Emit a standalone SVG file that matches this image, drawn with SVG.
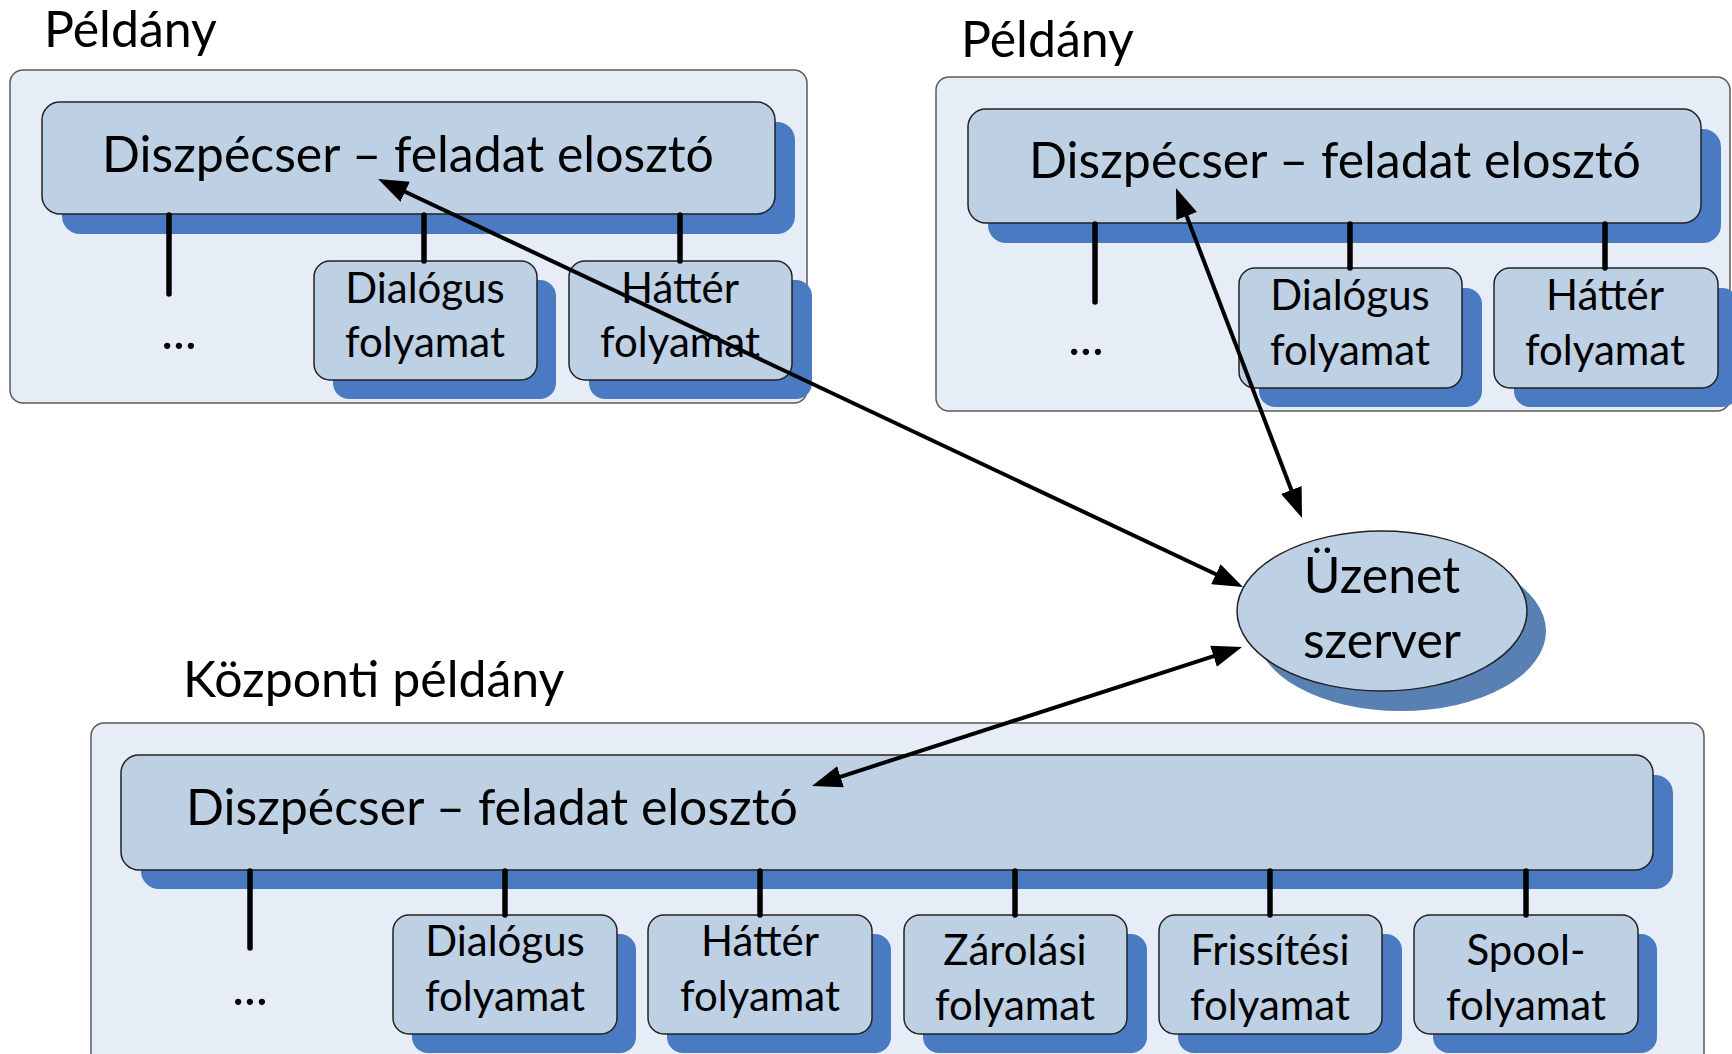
<svg xmlns="http://www.w3.org/2000/svg" width="1732" height="1054" viewBox="0 0 1732 1054">
<style>
.panel{fill:#e6edf7;stroke:#5a5a5a;stroke-width:1.5}
.box{fill:#bed0e3;stroke:#222;stroke-width:1.5}
.shadow{fill:#4a7bc2}
.eshadow{fill:#5880b3}
.vline{stroke:#000;stroke-width:5.5;stroke-linecap:round}
.arrow{stroke:#000;stroke-width:4;fill:none;marker-start:url(#ah);marker-end:url(#ah)}
text{font-family:Lato,"Liberation Sans",sans-serif;fill:#000}
.big{font-size:50px}
.small{font-size:42px}
.mid{text-anchor:middle}
</style>
<defs>
<marker id="ah" markerUnits="userSpaceOnUse" markerWidth="30" markerHeight="22" refX="10" refY="11" orient="auto-start-reverse" viewBox="0 0 30 22">
<path d="M0,0 L30,11 L0,22 Z" fill="#000"/>
</marker>
</defs>

<g id="instance-top-left">
<text class="big" x="44" y="47">Példány</text>
<rect class="panel" x="10" y="70" width="797" height="333" rx="13"/>
<rect class="shadow" x="62" y="122" width="733" height="112" rx="18"/>
<rect class="box" x="42" y="102" width="733" height="112" rx="18"/>
<text class="big mid" x="408" y="172">Diszpécser – feladat elosztó</text>
<text class="big mid" x="179" y="349">...</text>
</g>
<g id="tl-dialog">
<rect class="shadow" x="333" y="280" width="223" height="119" rx="16"/>
<rect class="box" x="314" y="261" width="223" height="119" rx="16"/>
<text class="small mid" x="425" y="303">Dialógus</text>
<text class="small mid" x="425" y="357">folyamat</text>
</g>
<g id="tl-hatter">
<rect class="shadow" x="589" y="280" width="223" height="119" rx="16"/>
<rect class="box" x="569" y="261" width="223" height="119" rx="16"/>
<text class="small mid" x="680" y="303">Háttér</text>
<text class="small mid" x="680" y="357">folyamat</text>
</g>

<g id="instance-top-right">
<text class="big" x="961" y="57">Példány</text>
<rect class="panel" x="936" y="77" width="794" height="334" rx="13"/>
<rect class="shadow" x="988" y="129" width="733" height="114" rx="18"/>
<rect class="box" x="968" y="109" width="733" height="114" rx="18"/>
<text class="big mid" x="1335" y="178">Diszpécser – feladat elosztó</text>
<text class="big mid" x="1086" y="355">...</text>
</g>
<g id="tr-dialog">
<rect class="shadow" x="1259" y="288" width="223" height="119" rx="16"/>
<rect class="box" x="1239" y="268" width="223" height="120" rx="16"/>
<text class="small mid" x="1350" y="310">Dialógus</text>
<text class="small mid" x="1350" y="365">folyamat</text>
</g>
<g id="tr-hatter">
<rect class="shadow" x="1514" y="288" width="224" height="119" rx="16"/>
<rect class="box" x="1494" y="268" width="224" height="120" rx="16"/>
<text class="small mid" x="1605" y="310">Háttér</text>
<text class="small mid" x="1605" y="365">folyamat</text>
</g>

<g id="message-server">
<ellipse class="eshadow" cx="1401" cy="631" rx="145" ry="80"/>
<ellipse class="box" cx="1382" cy="611" rx="145" ry="80"/>
<text class="big mid" x="1382" y="593">Üzenet</text>
<text class="big mid" x="1382" y="658">szerver</text>
</g>

<g id="central-instance">
<text class="big" x="183" y="697">Központi példány</text>
<rect class="panel" x="91" y="723" width="1613" height="350" rx="13"/>
<rect class="shadow" x="141" y="775" width="1532" height="114" rx="18"/>
<rect class="box" x="121" y="755" width="1532" height="115" rx="18"/>
<text class="big" x="186" y="825">Diszpécser – feladat elosztó</text>
<text class="big mid" x="250" y="1005">...</text>
</g>
<g id="c-dialog">
<rect class="shadow" x="412" y="934" width="224" height="119" rx="16"/>
<rect class="box" x="393" y="915" width="224" height="119" rx="16"/>
<text class="small mid" x="505" y="956">Dialógus</text>
<text class="small mid" x="505" y="1011">folyamat</text>
</g>
<g id="c-hatter">
<rect class="shadow" x="667" y="934" width="224" height="119" rx="16"/>
<rect class="box" x="648" y="915" width="224" height="119" rx="16"/>
<text class="small mid" x="760" y="956">Háttér</text>
<text class="small mid" x="760" y="1011">folyamat</text>
</g>
<g id="c-zarolasi">
<rect class="shadow" x="923" y="934" width="224" height="119" rx="16"/>
<rect class="box" x="904" y="915" width="223" height="119" rx="16"/>
<text class="small mid" x="1015" y="965">Zárolási</text>
<text class="small mid" x="1015" y="1020">folyamat</text>
</g>
<g id="c-frissitesi">
<rect class="shadow" x="1178" y="934" width="224" height="119" rx="16"/>
<rect class="box" x="1159" y="915" width="223" height="119" rx="16"/>
<text class="small mid" x="1270" y="965">Frissítési</text>
<text class="small mid" x="1270" y="1020">folyamat</text>
</g>
<g id="c-spool">
<rect class="shadow" x="1433" y="934" width="224" height="119" rx="16"/>
<rect class="box" x="1414" y="915" width="224" height="119" rx="16"/>
<text class="small mid" x="1526" y="965">Spool-</text>
<text class="small mid" x="1526" y="1020">folyamat</text>
</g>

<g id="connectors">
<line class="vline" x1="169" y1="215" x2="169" y2="294"/>
<line class="vline" x1="424" y1="215" x2="424" y2="261"/>
<line class="vline" x1="680" y1="215" x2="680" y2="261"/>
<line class="vline" x1="1095" y1="224" x2="1095" y2="302"/>
<line class="vline" x1="1350" y1="224" x2="1350" y2="268"/>
<line class="vline" x1="1605" y1="224" x2="1605" y2="268"/>
<line class="vline" x1="250" y1="871" x2="250" y2="948"/>
<line class="vline" x1="505" y1="871" x2="505" y2="915"/>
<line class="vline" x1="760" y1="871" x2="760" y2="915"/>
<line class="vline" x1="1015" y1="871" x2="1015" y2="915"/>
<line class="vline" x1="1270" y1="871" x2="1270" y2="915"/>
<line class="vline" x1="1526" y1="871" x2="1526" y2="915"/>
<line class="arrow" x1="396.1" y1="187.5" x2="1224.9" y2="578.5"/>
<line class="arrow" x1="1183.1" y1="206.7" x2="1294.9" y2="499.3"/>
<line class="arrow" x1="1223.0" y1="653.2" x2="831.0" y2="779.8"/>
</g>
</svg>
